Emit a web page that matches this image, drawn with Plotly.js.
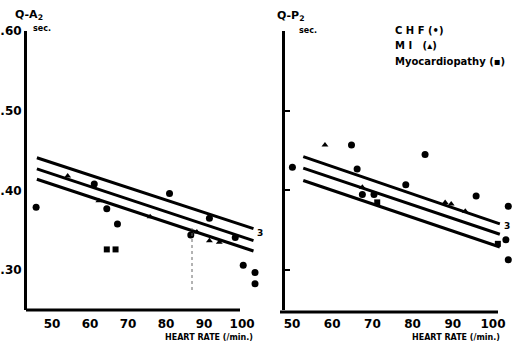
<!DOCTYPE html>
<html>
<head>
<meta charset="utf-8">
<script src="https://cdn.plot.ly/plotly-3.0.1.min.js"></script>
<style>html,body{margin:0;padding:0;background:#fff;}#chart{width:520px;height:343px;}</style>
</head>
<body>
<div id="chart"></div>
<script>
// ---- Left panel: Q-A2 (sec.) vs heart rate ----
var qa_chf_hr  = [45.8, 61.1, 64.4, 67.2, 80.9, 86.5, 91.4, 98.2, 100.3, 103.4, 103.4];
var qa_chf_val = [0.379, 0.408, 0.377, 0.358, 0.396, 0.344, 0.365, 0.341, 0.306, 0.297, 0.283];
var qa_mi_hr   = [54.1, 62.3, 75.8, 88.1, 91.4, 94.0];
var qa_mi_val  = [0.418, 0.387, 0.367, 0.348, 0.337, 0.335];
var qa_myo_hr  = [64.4, 66.7];
var qa_myo_val = [0.326, 0.326];
var qa_line_hr = [46, 103];
var qa_upper   = [0.441, 0.352];
var qa_mid     = [0.427, 0.337];
var qa_lower   = [0.414, 0.324];

// ---- Right panel: Q-P2 (sec.) vs heart rate ----
var qp_chf_hr  = [50.1, 64.8, 66.2, 67.5, 70.4, 78.3, 83.1, 95.8, 103.8, 103.2, 103.8];
var qp_chf_val = [0.429, 0.457, 0.427, 0.395, 0.395, 0.407, 0.445, 0.393, 0.380, 0.338, 0.313];
var qp_mi_hr   = [58.2, 67.5, 88.1, 89.6, 93.1];
var qp_mi_val  = [0.457, 0.404, 0.385, 0.383, 0.374];
var qp_myo_hr  = [71.2, 101.2];
var qp_myo_val = [0.385, 0.333];
var qp_line_hr = [52.8, 101.7];
var qp_upper   = [0.4425, 0.358];
var qp_mid     = [0.428, 0.345];
var qp_lower   = [0.4125, 0.329];

var xTickVals = [50, 60, 70, 80, 90, 100];
var xTickText = ['50', '60', '70', '80', '90', '100'];
var yTickVals = [0.30, 0.40, 0.50, 0.60];
var yTickText = ['.30', '.40', '.50', '.60'];

// pixel -> paper helpers (plot area: x 27..515, y 31..310)
function PX(p){ return (p - 27) / 488; }
function PY(p){ return (310 - p) / 279; }

var F = 'DejaVu Sans, Liberation Sans, sans-serif';
var mk = function(sym, sz){ return {symbol: sym, size: sz, color: '#000'}; };

function lineTrace(x, y, xa, ya){
  return {x: x, y: y, xaxis: xa, yaxis: ya, mode: 'lines', line: {color: '#000', width: 3}, hoverinfo: 'skip'};
}
function ptTrace(x, y, xa, ya, sym, sz){
  return {x: x, y: y, xaxis: xa, yaxis: ya, mode: 'markers', marker: mk(sym, sz), cliponaxis: false};
}

var data = [
  lineTrace(qa_line_hr, qa_upper, 'x', 'y'),
  lineTrace(qa_line_hr, qa_mid, 'x', 'y'),
  lineTrace(qa_line_hr, qa_lower, 'x', 'y'),
  ptTrace(qa_chf_hr, qa_chf_val, 'x', 'y', 'circle', 7),
  ptTrace(qa_mi_hr, qa_mi_val, 'x', 'y', 'triangle-up', 6),
  ptTrace(qa_myo_hr, qa_myo_val, 'x', 'y', 'square', 6),
  lineTrace(qp_line_hr, qp_upper, 'x2', 'y2'),
  lineTrace(qp_line_hr, qp_mid, 'x2', 'y2'),
  lineTrace(qp_line_hr, qp_lower, 'x2', 'y2'),
  ptTrace(qp_chf_hr, qp_chf_val, 'x2', 'y2', 'circle', 7),
  ptTrace(qp_mi_hr, qp_mi_val, 'x2', 'y2', 'triangle-up', 6),
  ptTrace(qp_myo_hr, qp_myo_val, 'x2', 'y2', 'square', 6)
];

var xBase = {
  tickvals: xTickVals, ticktext: xTickText, ticks: '', showline: false, showgrid: false, zeroline: false,
  tickfont: {family: F, size: 12, color: '#000', weight: 'bold'}, ticklabelstandoff: 5, fixedrange: true
};

var layout = {
  width: 520, height: 343,
  margin: {l: 27, r: 5, t: 31, b: 33},
  paper_bgcolor: '#fff', plot_bgcolor: 'rgba(0,0,0,0)',
  showlegend: false,
  xaxis: Object.assign({}, xBase, {domain: [0, 0.4797], range: [43.4, 105], anchor: 'y'}),
  yaxis: {domain: [0, 1], range: [0.25, 0.60], anchor: 'x', tickvals: yTickVals, ticktext: yTickText,
    ticks: '', showline: true, linewidth: 3, linecolor: '#000', showgrid: false, zeroline: false,
    tickfont: {family: F, size: 12, color: '#000', weight: 'bold'}, fixedrange: true},
  xaxis2: Object.assign({}, xBase, {domain: [0.5287, 1], range: [48.26, 105.47], anchor: 'y2'}),
  yaxis2: {domain: [0, 1], range: [0.25, 0.60], anchor: 'x2', tickvals: yTickVals,
    ticks: 'inside', ticklen: 5, tickwidth: 2, tickcolor: '#000', showticklabels: false,
    showline: true, linewidth: 3, linecolor: '#000', showgrid: false, zeroline: false, fixedrange: true},
  shapes: [
    {type: 'line', xref: 'paper', yref: 'paper', x0: PX(26), x1: PX(240), y0: 0, y1: 0, line: {color: '#000', width: 3}},
    {type: 'line', xref: 'paper', yref: 'paper', x0: PX(280), x1: PX(498), y0: PY(312), y1: PY(312), line: {color: '#000', width: 3}},
    {type: 'line', xref: 'paper', yref: 'paper', x0: PX(192), x1: PX(192), y0: PY(290), y1: PY(228), line: {color: '#666', width: 1, dash: 'dot'}}
  ],
  annotations: [
    {text: 'Q-A<sub>2</sub>', x: PX(29), y: PY(15), xref: 'paper', yref: 'paper', showarrow: false, xanchor: 'center', yanchor: 'middle', font: {family: F, size: 11, color: '#000', weight: 'bold'}},
    {text: 'sec.', x: PX(42), y: PY(28), xref: 'paper', yref: 'paper', showarrow: false, xanchor: 'center', yanchor: 'middle', font: {family: F, size: 8, color: '#000', weight: 'bold'}},
    {text: 'Q-P<sub>2</sub>', x: PX(291), y: PY(16), xref: 'paper', yref: 'paper', showarrow: false, xanchor: 'center', yanchor: 'middle', font: {family: F, size: 11, color: '#000', weight: 'bold'}},
    {text: 'sec.', x: PX(308), y: PY(30), xref: 'paper', yref: 'paper', showarrow: false, xanchor: 'center', yanchor: 'middle', font: {family: F, size: 8, color: '#000', weight: 'bold'}},
    {text: 'C H F (•)', x: PX(393), y: PY(30), xref: 'paper', yref: 'paper', showarrow: false, xanchor: 'left', yanchor: 'middle', font: {family: F, size: 10, color: '#000', weight: 'bold'}},
    {text: 'M I   (▴)', x: PX(393), y: PY(45), xref: 'paper', yref: 'paper', showarrow: false, xanchor: 'left', yanchor: 'middle', font: {family: F, size: 10, color: '#000', weight: 'bold'}},
    {text: 'Myocardiopathy (▪)', x: PX(393), y: PY(61), xref: 'paper', yref: 'paper', showarrow: false, xanchor: 'left', yanchor: 'middle', font: {family: F, size: 10, color: '#000', weight: 'bold'}},
    {text: 'HEART RATE (/min.)', x: PX(163), y: PY(337), xref: 'paper', yref: 'paper', showarrow: false, xanchor: 'left', yanchor: 'middle', font: {family: F, size: 8, color: '#000', weight: 'bold'}},
    {text: 'HEART RATE (/min.)', x: PX(410), y: PY(337), xref: 'paper', yref: 'paper', showarrow: false, xanchor: 'left', yanchor: 'middle', font: {family: F, size: 8, color: '#000', weight: 'bold'}},
    {text: '3', x: 104.6, y: 0.346, xref: 'x', yref: 'y', showarrow: false, xanchor: 'center', yanchor: 'middle', font: {family: F, size: 9, color: '#000', weight: 'bold'}},
    {text: '3', x: 103.6, y: 0.355, xref: 'x2', yref: 'y2', showarrow: false, xanchor: 'center', yanchor: 'middle', font: {family: F, size: 9, color: '#000', weight: 'bold'}}
  ]
};

Plotly.newPlot('chart', data, layout, {staticPlot: true, displayModeBar: false});
</script>
</body>
</html>
